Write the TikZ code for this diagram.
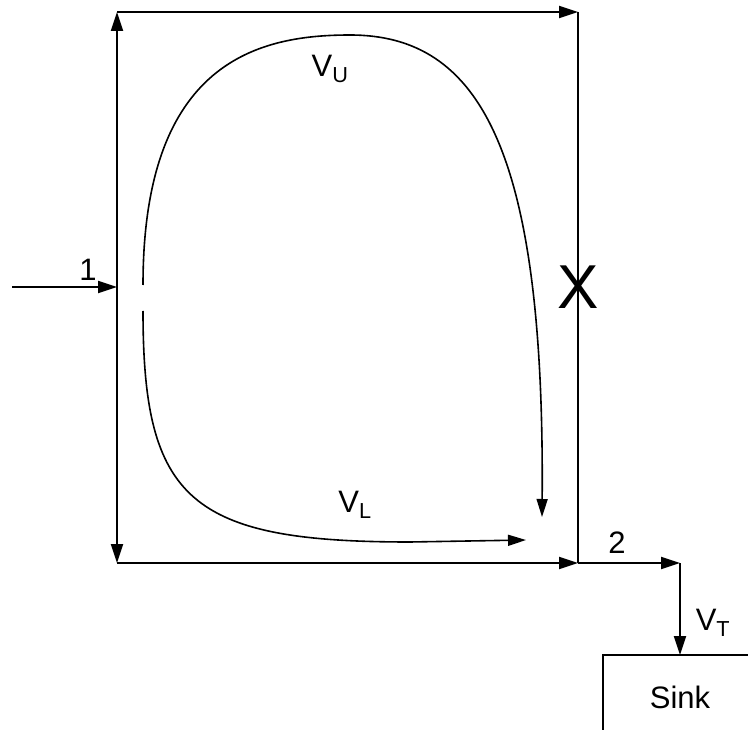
\documentclass[tikz,border=0pt]{standalone}
\usepackage{fontspec}
\setmainfont{Liberation Sans}
\usetikzlibrary{arrows.meta}
\begin{document}
\begin{tikzpicture}[x=1pt,y=-1pt,
  line width=1.8pt,
  tip/.style={-{Triangle[length=19pt,width=12pt]}},
  dtip/.style={{Triangle[length=19pt,width=12pt]}-{Triangle[length=19pt,width=12pt]}},
  ctip/.style={line width=1.6pt,-{Triangle[length=18pt,width=11pt]}},
  lbl/.style={inner sep=0pt,font=\fontsize{31}{34}\selectfont}]
\useasboundingbox (0,0) rectangle (748,730);
% corners
\coordinate (tl) at (117,12);
\coordinate (tr) at (578,12);
\coordinate (bl) at (117,563);
\coordinate (br) at (578,563);
\coordinate (out) at (680,563);
\coordinate (in) at (12,287);
\coordinate (inend) at (117,287);
\coordinate (sinktop) at (680,655);
\coordinate (sinkL) at (603,655);
\coordinate (sinkR) at (748,655);
\coordinate (sinkB) at (603,730);
% box
\draw[dtip] (tl) -- (bl);
\draw[tip] (tl) -- (tr);
\draw (tr) -- (br);
\draw[tip] (bl) -- (br);
\draw[tip] (br) -- (out);
\draw[tip] (out) -- (sinktop);
\draw[tip] (in) -- (inend);
% sink
\draw (sinkR) -- (sinkL) -- (sinkB);
\node[lbl] (sink) at (680,697) {Sink};
% curves
\coordinate (cu0) at (143,285);
\coordinate (cutop) at (350,35);
\coordinate (cuend) at (542,517);
\draw[ctip] (cu0) .. controls (143,60) and (260,35) .. (cutop)
   .. controls (480,35) and (545,150) .. (cuend);
\coordinate (cl0) at (143,311);
\coordinate (clmid) at (410,542);
\coordinate (clend) at (526,540);
\draw[ctip] (cl0) .. controls (143,500) and (190,542) .. (clmid) -- (clend);
% labels
\node[lbl] (l1) at (88,270) {1};
\node[lbl] (l2) at (617,543) {2};
\node[lbl] (vu) at (330,69) {V\textsubscript{U}};
\node[lbl] (vl) at (355,505) {V\textsubscript{L}};
\node[lbl] (vt) at (713,623) {V\textsubscript{T}};
\node[inner sep=0pt,font=\fontsize{62}{66}\selectfont] (x) at (578,287) {X};
\end{tikzpicture}
\end{document}
